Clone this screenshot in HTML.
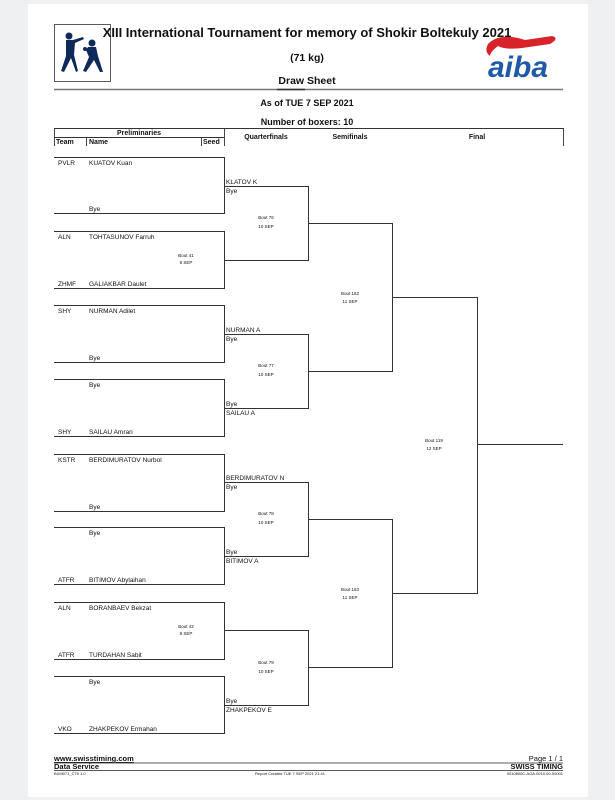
<!DOCTYPE html>
<html><head><meta charset="utf-8"><style>
html,body{margin:0;padding:0;background:#eef0f2;width:615px;height:800px;overflow:hidden}
svg{display:block}
text{font-family:"Liberation Sans",sans-serif;fill:#111}
</style></head><body>
<svg width="615" height="800" viewBox="0 0 615 800" xmlns="http://www.w3.org/2000/svg">
<rect x="28" y="4" width="560" height="793" fill="#fff"/>
<!-- logo -->
<rect x="54.5" y="24.5" width="56" height="57" fill="none" stroke="#333" stroke-width="0.8"/>
<g fill="#0f2a5a">
<circle cx="69" cy="36" r="3.5"/><path d="M66 40 L73 40 L83 37 L84 39 L75 43 L74 55 L78 71 L76 72 L71 58 L64 72 L61 71 L66 56 Z"/>
<circle cx="92" cy="43" r="3.5"/><path d="M88 47 L96 47 L98 56 L103 72 L100 72 L94 60 L86 72 L83 71 L89 57 L86 50 Z"/>
<circle cx="85" cy="49" r="2"/>
</g>
<!-- aiba -->
<path d="M488 44 Q500 32 525 40 L552 36 Q560 38 550 44 L522 48 Q505 50 498 46 Q490 52 490 56 Q484 52 488 44Z" fill="#d8232a"/>
<text x="488" y="77" font-size="30" font-weight="bold" font-style="italic" style="fill:#1f5aa8">aiba</text>
<text x="307" y="37" font-size="13" font-weight="bold" text-anchor="middle">XIII International Tournament for memory of Shokir Boltekuly 2021</text>
<text x="307" y="61" font-size="10.5" font-weight="bold" text-anchor="middle">(71 kg)</text>
<text x="307" y="84" font-size="10.5" font-weight="bold" text-anchor="middle">Draw Sheet</text>
<line x1="54" y1="89.5" x2="563" y2="89.5" stroke="#777" stroke-width="1.5"/>
<line x1="277" y1="89.5" x2="305" y2="89.5" stroke="#333" stroke-width="1.5"/>
<text x="307" y="106" font-size="9" font-weight="bold" text-anchor="middle">As of TUE 7 SEP 2021</text>
<text x="307" y="125" font-size="9" font-weight="bold" text-anchor="middle">Number of boxers: 10</text>
<!-- table header -->
<g stroke="#333" fill="none" stroke-width="0.9">
<path d="M54.5 146 V128.5 H563.5 V146"/>
<line x1="224.5" y1="128.5" x2="224.5" y2="146"/>
<line x1="54.5" y1="137.5" x2="224.5" y2="137.5"/>
<line x1="86.5" y1="137.5" x2="86.5" y2="146"/>
<line x1="201.5" y1="137.5" x2="201.5" y2="146"/>
</g>
<g font-size="7" font-weight="bold">
<text x="139" y="135" text-anchor="middle">Preliminaries</text>
<text x="56" y="144">Team</text><text x="89" y="144">Name</text><text x="203" y="144">Seed</text>
<text x="266" y="139" text-anchor="middle">Quarterfinals</text>
<text x="350" y="139" text-anchor="middle">Semifinals</text>
<text x="477" y="139" text-anchor="middle">Final</text>
</g>
<!-- prelim boxes -->
<g stroke="#333" fill="none" stroke-width="1">
<path d="M54 157.5 H224.5 V213.5 H54"/>
<path d="M54 231.5 H224.5 V288.5 H54"/>
<path d="M54 305.5 H224.5 V362.5 H54"/>
<path d="M54 379.5 H224.5 V436.5 H54"/>
<path d="M54 454.5 H224.5 V511.5 H54"/>
<path d="M54 527.5 H224.5 V584.5 H54"/>
<path d="M54 602.5 H224.5 V659.5 H54"/>
<path d="M54 676.5 H224.5 V733.5 H54"/>
<!-- QF -->
<path d="M224 186.5 H308.5 V260.5 H224"/>
<path d="M224 334.5 H308.5 V408.5 H224"/>
<path d="M224 482.5 H308.5 V556.5 H224"/>
<path d="M224 630.5 H308.5 V705.5 H224"/>
<!-- SF -->
<path d="M308 223.5 H392.5 V371.5 H308"/>
<path d="M308 519.5 H392.5 V667.5 H308"/>
<!-- F -->
<path d="M392 297.5 H477.5 V593.5 H392"/>
<line x1="477" y1="444.5" x2="563" y2="444.5"/>
</g>
<g font-size="6.5">
<text x="58" y="165">PVLR</text><text x="89" y="165">KUATOV Kuan</text>
<text x="89" y="211">Bye</text>
<text x="58" y="239">ALN</text><text x="89" y="239">TOHTASUNOV Farruh</text>
<text x="58" y="286">ZHMF</text><text x="89" y="286">GALIAKBAR Daulet</text>
<text x="58" y="313">SHY</text><text x="89" y="313">NURMAN Adilet</text>
<text x="89" y="360">Bye</text>
<text x="89" y="387">Bye</text>
<text x="58" y="434">SHY</text><text x="89" y="434">SAILAU Amran</text>
<text x="58" y="462">KSTR</text><text x="89" y="462">BERDIMURATOV Nurbol</text>
<text x="89" y="509">Bye</text>
<text x="89" y="535">Bye</text>
<text x="58" y="582">ATFR</text><text x="89" y="582">BITIMOV Abylaihan</text>
<text x="58" y="610">ALN</text><text x="89" y="610">BORANBAEV Bekzat</text>
<text x="58" y="657">ATFR</text><text x="89" y="657">TURDAHAN Sabit</text>
<text x="89" y="684">Bye</text>
<text x="58" y="731">VKO</text><text x="89" y="731">ZHAKPEKOV Ermahan</text>
<text x="226" y="184">KLATOV K</text><text x="226" y="193">Bye</text>
<text x="226" y="332">NURMAN A</text><text x="226" y="341">Bye</text>
<text x="226" y="406">Bye</text><text x="226" y="415">SAILAU A</text>
<text x="226" y="480">BERDIMURATOV N</text><text x="226" y="489">Bye</text>
<text x="226" y="554">Bye</text><text x="226" y="563">BITIMOV A</text>
<text x="226" y="703">Bye</text><text x="226" y="712">ZHAKPEKOV E</text>
</g>
<g font-size="4.5" text-anchor="middle">
<text x="186" y="257">Bout 41</text><text x="186" y="264">9 SEP</text>
<text x="186" y="628">Bout 42</text><text x="186" y="635">9 SEP</text>
<text x="266" y="219">Bout 76</text><text x="266" y="228">10 SEP</text>
<text x="266" y="367">Bout 77</text><text x="266" y="376">10 SEP</text>
<text x="266" y="515">Bout 78</text><text x="266" y="524">10 SEP</text>
<text x="266" y="664">Bout 79</text><text x="266" y="673">10 SEP</text>
<text x="350" y="295">Bout 162</text><text x="350" y="303">11 SEP</text>
<text x="350" y="591">Bout 163</text><text x="350" y="599">11 SEP</text>
<text x="434" y="442">Bout 119</text><text x="434" y="450">12 SEP</text>
</g>
<!-- footer -->
<text x="54" y="761" font-size="7.5" font-weight="bold" text-decoration="underline">www.swisstiming.com</text>
<text x="563" y="761" font-size="7.5" text-anchor="end">Page 1 / 1</text>
<line x1="54" y1="763" x2="563" y2="763" stroke="#222" stroke-width="0.8"/>
<text x="54" y="769" font-size="7.5" font-weight="bold">Data Service</text>
<text x="563" y="769" font-size="7.5" font-weight="bold" text-anchor="end">SWISS TIMING</text>
<line x1="54" y1="770.5" x2="563" y2="770.5" stroke="#222" stroke-width="0.8"/>
<text x="54" y="775" font-size="4">BXM071_C75 1.0</text>
<text x="290" y="775" font-size="4" text-anchor="middle">Report Created  TUE 7 SEP 2021 21:41</text>
<text x="563" y="775" font-size="4" text-anchor="end">0010800C-AOA.0010.00-00001</text>
</svg>
</body></html>
